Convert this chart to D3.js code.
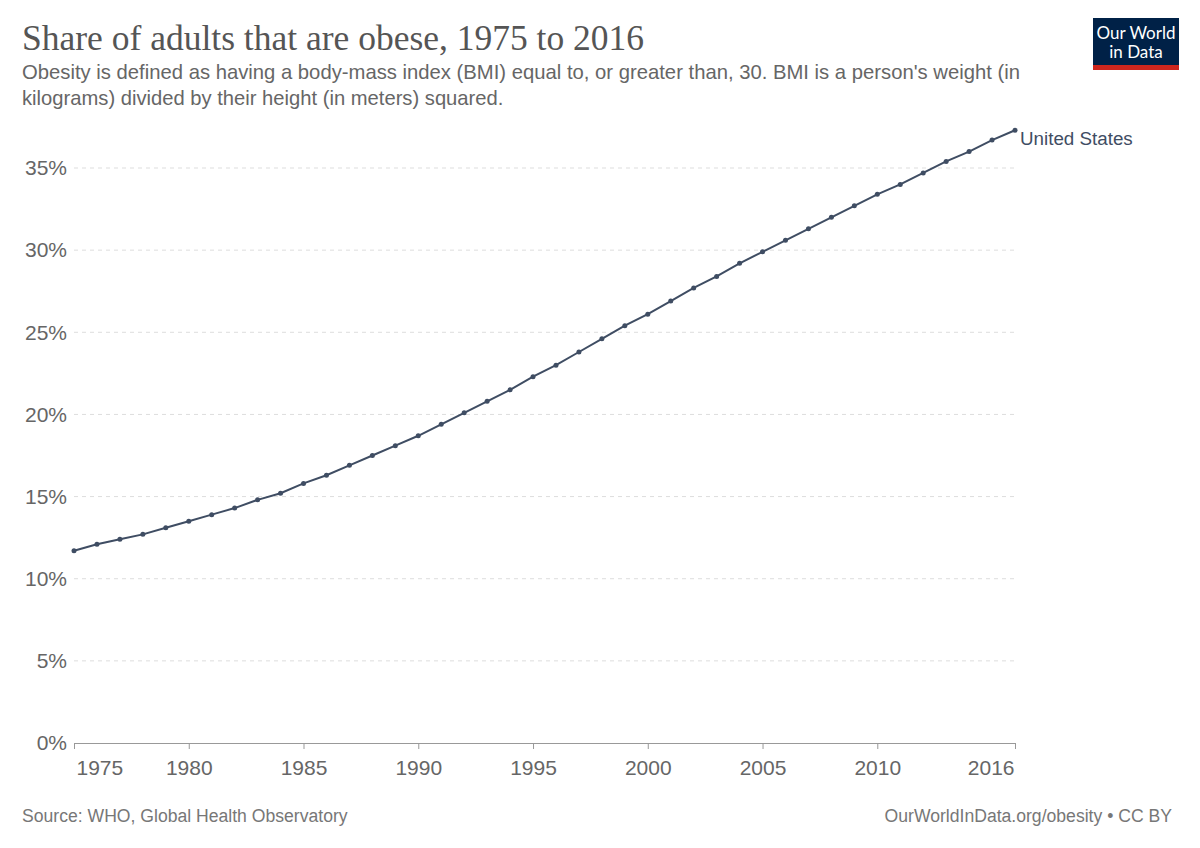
<!DOCTYPE html>
<html><head><meta charset="utf-8">
<script src="https://cdn.jsdelivr.net/npm/d3@7"></script>
<style>body{margin:0;background:#fff}svg{display:block}</style>
</head><body>
<script>
const years = [1975,1976,1977,1978,1979,1980,1981,1982,1983,1984,1985,1986,1987,1988,1989,1990,1991,1992,1993,1994,1995,1996,1997,1998,1999,2000,2001,2002,2003,2004,2005,2006,2007,2008,2009,2010,2011,2012,2013,2014,2015,2016];
const usValues = [11.7,12.1,12.4,12.7,13.1,13.5,13.9,14.3,14.8,15.2,15.8,16.3,16.9,17.5,18.1,18.7,19.4,20.1,20.8,21.5,22.3,23.0,23.8,24.6,25.4,26.1,26.9,27.7,28.4,29.2,29.9,30.6,31.3,32.0,32.7,33.4,34.0,34.7,35.4,36.0,36.7,37.3];
const xTicks = [1975,1980,1985,1990,1995,2000,2005,2010,2016];
const yTicks = [0,5,10,15,20,25,30,35];
const seriesName = "United States";

const W=1200,H=848;
const svg=d3.select("body").append("svg").attr("width",W).attr("height",H);
const sans="'Liberation Sans', Arial, Helvetica, sans-serif";

svg.append("text").attr("x",22).attr("y",50).attr("font-family","'Liberation Serif', 'Times New Roman', serif")
  .attr("font-size",35.5).attr("fill","#555").text("Share of adults that are obese, 1975 to 2016");
svg.append("text").attr("x",22).attr("y",79).attr("font-family",sans).attr("font-size",20.2).attr("fill","#666")
  .attr("textLength",998).attr("lengthAdjust","spacingAndGlyphs")
  .text("Obesity is defined as having a body-mass index (BMI) equal to, or greater than, 30. BMI is a person's weight (in");
svg.append("text").attr("x",22).attr("y",105).attr("font-family",sans).attr("font-size",20.2).attr("fill","#666")
  .text("kilograms) divided by their height (in meters) squared.");

// logo
const logo=svg.append("g");
logo.append("rect").attr("x",1093).attr("y",18).attr("width",86).attr("height",52).attr("fill","#002147");
logo.append("rect").attr("x",1093).attr("y",65).attr("width",86).attr("height",5).attr("fill","#ce261e");
logo.append("text").attr("x",1136).attr("y",39).attr("text-anchor","middle").attr("font-family","Lato, sans-serif").attr("font-size",17).attr("fill","#fff").text("Our World");
logo.append("text").attr("x",1136).attr("y",58).attr("text-anchor","middle").attr("font-family","Lato, sans-serif").attr("font-size",17).attr("fill","#fff").text("in Data");

const x=d3.scaleLinear().domain([1975,2016]).range([74,1015]);
const y=d3.scaleLinear().domain([0,35]).range([743,168]);

// grid
const grid=svg.append("g");
yTicks.filter(d=>d>0).forEach(t=>{
  grid.append("line").attr("x1",74).attr("x2",1015).attr("y1",y(t)).attr("y2",y(t))
   .attr("stroke","#ddd").attr("stroke-dasharray","4,4").attr("stroke-width",1);
});
// y labels
const yAxis=d3.axisLeft(y).tickValues(yTicks).tickFormat(d=>d+"%").tickSize(0).tickPadding(7);
const yg=svg.append("g").attr("transform","translate(74,0)").call(yAxis);
yg.select(".domain").remove();
yg.selectAll("text").attr("font-family",sans).attr("font-size",21).attr("fill","#666");

// x axis
const xAxis=d3.axisBottom(x).tickValues(xTicks).tickFormat(d=>d).tickSize(6).tickSizeOuter(0).tickPadding(8);
const xg=svg.append("g").attr("transform","translate(0,743)").call(xAxis);
xg.select(".domain").attr("stroke","#999");
xg.selectAll(".tick line").attr("stroke","#999");
xg.selectAll("text").attr("font-family",sans).attr("font-size",21).attr("fill","#666").attr("dy","0.85em");
xg.selectAll(".tick text").filter(d=>d===1975).attr("text-anchor","start").attr("dx",2);
xg.selectAll(".tick text").filter(d=>d===2016).attr("text-anchor","end").attr("dx",-1);

// line
const data=years.map((yr,i)=>({yr,v:usValues[i]}));
const color="#3f4d63";
svg.append("path").datum(data).attr("fill","none").attr("stroke",color).attr("stroke-width",2)
  .attr("d",d3.line().x(d=>x(d.yr)).y(d=>y(d.v)));
svg.append("g").selectAll("circle").data(data).join("circle")
  .attr("cx",d=>x(d.yr)).attr("cy",d=>y(d.v)).attr("r",2.5).attr("fill",color);
const last=data[data.length-1];
svg.append("text").attr("x",x(last.yr)+5).attr("y",y(last.v)+15).attr("font-family",sans).attr("font-size",18.8)
  .attr("fill","#3f4d63").text(seriesName);

svg.append("text").attr("x",22).attr("y",822).attr("font-family",sans).attr("font-size",17.6).attr("fill","#777")
  .text("Source: WHO, Global Health Observatory");
svg.append("text").attr("x",1172).attr("y",822).attr("text-anchor","end").attr("font-family",sans).attr("font-size",17.6).attr("fill","#777")
  .text("OurWorldInData.org/obesity • CC BY");
</script>
</body></html>
